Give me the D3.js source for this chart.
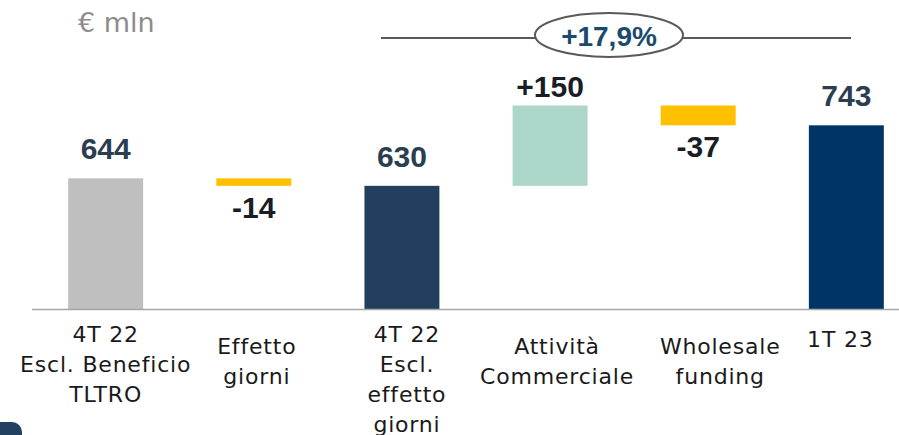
<!DOCTYPE html>
<html>
<head>
<meta charset="utf-8">
<script src="https://cdn.jsdelivr.net/npm/d3@7"></script>
<style>
  html, body { margin: 0; padding: 0; background: #fff; }
  svg { display: block; }
</style>
</head>
<body>
<svg id="chart" width="899" height="435"></svg>
<script>
// data
const categories = [
    ['4T 22', 'Escl. Beneficio', 'TLTRO'],
    ['Effetto', 'giorni'],
    ['4T 22', 'Escl.', 'effetto', 'giorni'],
    ['Attività', 'Commerciale'],
    ['Wholesale', 'funding'],
    ['1T 23']
];
const values = [644, -14, 630, 150, -37, 743];
const kinds = ['total', 'delta', 'total', 'delta', 'delta', 'total'];
const valueLabels = ['644', '-14', '630', '+150', '-37', '743'];
const growthLabel = '+17,9%';
const unitLabel = '€ mln';

const colors = ['#bfbfbf', '#ffc000', '#233f5e', '#add6cb', '#ffc000', '#003366'];
// small horizontal nudges of the category text boxes, as in the slide
const labelDx = [0, 3, 5, 7, 22, -6];

const svg = d3.select('#chart');
const width = 899;

// build waterfall steps
let running = 0;
const bars = values.map((v, i) => {
    let y0, y1;
    if (kinds[i] === 'total') {
        y0 = 400; y1 = v; running = v;
    } else {
        y0 = running; y1 = running + v; running = y1;
    }
    return { i, v, kind: kinds[i], y0, y1, label: valueLabels[i], lines: categories[i] };
});

const x = d3.scaleBand()
    .domain(d3.range(values.length))
    .range([-5, 957])
    .paddingInner(0.494)
    .paddingOuter(0.494);

const y = d3.scaleLinear()
    .domain([400, 780])
    .range([309, 105.5]);

// bars
svg.append('g').selectAll('rect')
    .data(bars)
    .enter()
    .append('rect')
    .attr('x', d => x(d.i))
    .attr('width', x.bandwidth())
    .attr('y', d => y(Math.max(d.y0, d.y1)))
    .attr('height', d => Math.abs(y(d.y0) - y(d.y1)))
    .attr('fill', (d, i) => colors[i]);

// baseline
svg.append('line')
    .attr('x1', 32).attr('x2', width)
    .attr('y1', y(400) + 0.5).attr('y2', y(400) + 0.5)
    .attr('stroke', '#a6a6a6')
    .attr('stroke-width', 1.5);

// value labels
svg.append('g').selectAll('text')
    .data(bars)
    .enter()
    .append('text')
    .attr('x', d => x(d.i) + x.bandwidth() / 2)
    .attr('y', d => {
        if (d.v < 0) return y(d.y1) + 32;
        return y(Math.max(d.y0, d.y1)) - (d.kind === 'total' ? 19 : 9);
    })
    .attr('text-anchor', 'middle')
    .attr('font-family', '"Liberation Sans", Arial, sans-serif')
    .attr('font-weight', 'bold')
    .attr('font-size', '30px')
    .attr('fill', d => d.kind === 'total' ? '#2b3d50' : '#1a1c26')
    .text(d => d.label);

// category labels
const firstLine = n => n >= 3 ? 342 : (n === 2 ? 354 : 347);
const cats = svg.append('g').selectAll('text')
    .data(bars)
    .enter()
    .append('text')
    .attr('text-anchor', 'middle')
    .attr('font-family', '"DejaVu Sans", sans-serif')
    .attr('font-size', '22px')
    .attr('letter-spacing', '0.8px')
    .attr('fill', '#1a1a1a');

cats.selectAll('tspan')
    .data(d => d.lines.map((t, k) => ({ t, k, d })))
    .enter()
    .append('tspan')
    .attr('x', l => x(l.d.i) + x.bandwidth() / 2 + labelDx[l.d.i])
    .attr('y', l => firstLine(l.d.lines.length) + l.k * 30)
    .text(l => l.t);

// unit label
svg.append('text')
    .attr('x', 78).attr('y', 32)
    .attr('font-family', '"DejaVu Sans", sans-serif')
    .attr('font-size', '27px')
    .attr('fill', '#8c8c8c')
    .text(unitLabel);

// growth bracket
svg.append('line')
    .attr('x1', 381).attr('x2', 851)
    .attr('y1', 38).attr('y2', 38)
    .attr('stroke', '#595959')
    .attr('stroke-width', 2);

svg.append('ellipse')
    .attr('cx', 609).attr('cy', 35)
    .attr('rx', 74).attr('ry', 22)
    .attr('fill', '#fff')
    .attr('stroke', '#595959')
    .attr('stroke-width', 2);

svg.append('text')
    .attr('x', 609).attr('y', 46)
    .attr('text-anchor', 'middle')
    .attr('font-family', '"Liberation Sans", Arial, sans-serif')
    .attr('font-weight', 'bold')
    .attr('font-size', '28px')
    .attr('fill', '#1c4a6e')
    .text(growthLabel);

// corner decoration
svg.append('rect')
    .attr('x', -20).attr('y', 422)
    .attr('width', 42).attr('height', 30)
    .attr('rx', 10)
    .attr('fill', '#22405f');
</script>
</body>
</html>
